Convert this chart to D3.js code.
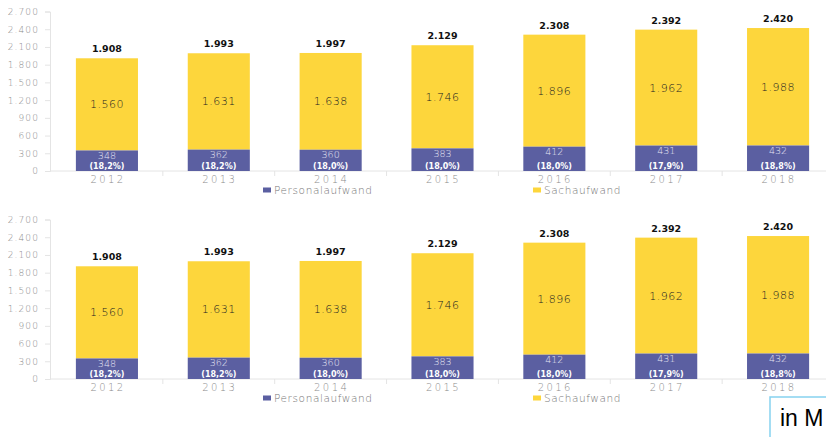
<!DOCTYPE html>
<html>
<head>
<meta charset="utf-8">
<script src="https://cdn.jsdelivr.net/npm/d3@7"></script>
<style>
  body { margin: 0; background: #fff; overflow: hidden; }
  svg { display: block; }
</style>
</head>
<body>
<div id="viz_container"></div>
<script>
// data
var years = ["2012", "2013", "2014", "2015", "2016", "2017", "2018"];
var personal = [348, 362, 360, 383, 412, 431, 432];
var sach = [1560, 1631, 1638, 1746, 1896, 1962, 1988];
var totals = [1908, 1993, 1997, 2129, 2308, 2392, 2420];
var shares = ["(18,2%)", "(18,2%)", "(18,0%)", "(18,0%)", "(18,0%)", "(17,9%)", "(18,8%)"];
var yTicks = [0, 300, 600, 900, 1200, 1500, 1800, 2100, 2400, 2700];
var seriesNames = ["Personalaufwand", "Sachaufwand"];

var blue = "#5b5fa1";
var yellow = "#fdd63c";

var de = d3.formatLocale({decimal: ",", thousands: ".", grouping: [3], currency: ["", " €"]});
var fmt = de.format(",.0f");

var svg = d3.select("#viz_container").append("svg")
    .attr("width", 826)
    .attr("height", 437);

var x = d3.scaleBand().domain(years).range([51, 834]).paddingInner(0.445).paddingOuter(0.2225);
var y = d3.scaleLinear().domain([0, 2700]).range([171, 11.5]);

function drawChart(offset) {
    var g = svg.append("g").attr("transform", "translate(0," + offset + ")");

    // y axis
    var yAxis = g.append("g")
        .attr("transform", "translate(50,0)")
        .call(d3.axisLeft(y).tickValues(yTicks).tickFormat(fmt).tickSize(5).tickPadding(6));
    yAxis.select(".domain").attr("stroke", "#e4e4e4");
    yAxis.selectAll(".tick line").attr("stroke", "#e4e4e4");
    yAxis.selectAll("text")
        .style("font-family", "DejaVu Sans")
        .style("font-size", "9px")
        .style("font-weight", "200")
        .style("letter-spacing", "1.1px")
        .attr("fill", "#8a8a8a");

    // x axis
    var xAxis = g.append("g").attr("transform", "translate(0,171)");
    xAxis.append("line")
        .attr("x1", 50).attr("x2", 826)
        .attr("stroke", "#e4e4e4");
    xAxis.selectAll(".sep")
        .data(years.slice(1))
        .enter().append("line")
        .attr("x1", function (d) { return x(d) - x.step() * x.paddingInner() / 2; })
        .attr("x2", function (d) { return x(d) - x.step() * x.paddingInner() / 2; })
        .attr("y1", 0).attr("y2", 5)
        .attr("stroke", "#e4e4e4");
    xAxis.selectAll(".yr")
        .data(years)
        .enter().append("text")
        .attr("x", function (d) { return x(d) + x.bandwidth() / 2 + 1; })
        .attr("y", 12)
        .attr("text-anchor", "middle")
        .style("font-family", "DejaVu Sans")
        .style("font-size", "10px")
        .style("font-weight", "200")
        .style("letter-spacing", "2.4px")
        .attr("fill", "#8a8a8a")
        .text(function (d) { return d; });

    // bars
    var bars = g.selectAll(".bar")
        .data(years)
        .enter().append("g");

    bars.append("rect")
        .attr("x", function (d) { return x(d); })
        .attr("width", x.bandwidth())
        .attr("y", function (d, i) { return y(personal[i] + sach[i]); })
        .attr("height", function (d, i) { return y(personal[i]) - y(personal[i] + sach[i]); })
        .attr("fill", yellow);

    bars.append("rect")
        .attr("x", function (d) { return x(d); })
        .attr("width", x.bandwidth())
        .attr("y", function (d, i) { return y(personal[i]); })
        .attr("height", function (d, i) { return y(0) - y(personal[i]); })
        .attr("fill", blue);

    // labels
    bars.append("text")
        .attr("x", function (d) { return x(d) + x.bandwidth() / 2; })
        .attr("y", function (d, i) { return y(totals[i]) - 6; })
        .attr("text-anchor", "middle")
        .style("font-family", "DejaVu Sans")
        .style("font-size", "9.5px")
        .style("font-weight", "bold")
        .attr("fill", "#111")
        .text(function (d, i) { return fmt(totals[i]); });

    bars.append("text")
        .attr("x", function (d) { return x(d) + x.bandwidth() / 2; })
        .attr("y", function (d, i) { return (y(personal[i]) + y(personal[i] + sach[i])) / 2 + 4; })
        .attr("text-anchor", "middle")
        .style("font-family", "DejaVu Sans")
        .style("font-size", "11px")
        .style("font-weight", "200")
        .style("letter-spacing", "0.5px")
        .attr("fill", "#222")
        .text(function (d, i) { return fmt(sach[i]); });

    bars.append("text")
        .attr("x", function (d) { return x(d) + x.bandwidth() / 2; })
        .attr("y", function (d, i) { return y(personal[i]) + 8.5; })
        .attr("text-anchor", "middle")
        .style("font-family", "DejaVu Sans")
        .style("font-size", "9.5px")
        .style("font-weight", "200")
        .attr("fill", "#e6e6f4")
        .text(function (d, i) { return fmt(personal[i]); });

    bars.append("text")
        .attr("x", function (d) { return x(d) + x.bandwidth() / 2; })
        .attr("y", y(0) - 2.5)
        .attr("text-anchor", "middle")
        .style("font-family", "DejaVu Sans")
        .style("font-size", "8px")
        .style("font-weight", "bold")
        .attr("fill", "#fff")
        .text(function (d, i) { return shares[i]; });

    // legend
    var legX = [263, 533];
    var legColors = [blue, yellow];
    var leg = g.selectAll(".leg")
        .data(seriesNames)
        .enter().append("g")
        .attr("transform", function (d, i) { return "translate(" + legX[i] + ",190)"; });
    leg.append("rect")
        .attr("x", 0).attr("y", -2.5)
        .attr("width", 8).attr("height", 5)
        .attr("fill", function (d, i) { return legColors[i]; });
    leg.append("text")
        .attr("x", 11).attr("y", 3.5)
        .style("font-family", "DejaVu Sans")
        .style("font-size", "10.5px")
        .style("font-weight", "200")
        .style("letter-spacing", "0.6px")
        .attr("fill", "#777")
        .text(function (d) { return d; });
}

drawChart(0);
drawChart(208);

// unit box, bottom right
svg.append("rect")
    .attr("x", 770).attr("y", 397)
    .attr("width", 70).attr("height", 50)
    .attr("fill", "#fff")
    .attr("stroke", "#86d2ef")
    .attr("stroke-width", 1.5);
svg.append("text")
    .attr("x", 780).attr("y", 426)
    .style("font-family", "Liberation Sans")
    .style("font-size", "23px")
    .attr("fill", "#000")
    .text("in M");
</script>
</body>
</html>
